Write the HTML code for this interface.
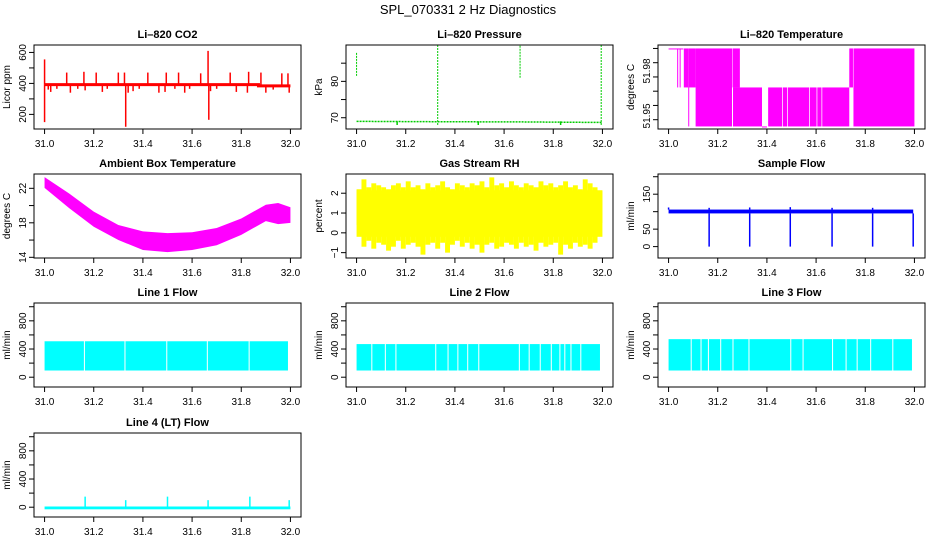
<!DOCTYPE html>
<html><head><meta charset="utf-8">
<style>
html,body{margin:0;padding:0;background:#fff;}
svg{display:block;font-family:"Liberation Sans",sans-serif;}
</style></head>
<body>
<svg id="fig" width="936" height="540" viewBox="0 0 936 540" xmlns="http://www.w3.org/2000/svg">
<text x="468" y="14" text-anchor="middle" font-size="13">SPL_070331  2 Hz Diagnostics</text>
</svg>
<script>
// ---- data ----
const xTicks = [31.0, 31.2, 31.4, 31.6, 31.8, 32.0];
const xTickLabels = ["31.0", "31.2", "31.4", "31.6", "31.8", "32.0"];

const co2BaseX = [31.0, 31.87, 31.87, 32.0];
const co2BaseV = [392, 392, 384, 384];
const co2SpikeX = [31.0, 31.0, 31.09, 31.16, 31.21, 31.3, 31.325, 31.33, 31.42, 31.495, 31.545, 31.635, 31.665, 31.668, 31.755, 31.83, 31.88, 31.965, 31.99];
const co2SpikeV = [555, 150, 470, 475, 470, 470, 470, 120, 470, 470, 470, 465, 610, 165, 470, 475, 470, 465, 465];
const co2DipX = [31.015, 31.025, 31.05, 31.105, 31.135, 31.165, 31.235, 31.255, 31.34, 31.36, 31.385, 31.465, 31.49, 31.53, 31.57, 31.59, 31.675, 31.7, 31.78, 31.825, 31.9, 31.93, 31.995];
const co2DipV = [360, 345, 365, 340, 365, 355, 345, 365, 340, 350, 365, 340, 345, 365, 340, 365, 350, 365, 345, 340, 340, 360, 340];

const presBaseX = [31.0, 31.33, 31.665, 32.0];
const presBaseV = [69.0, 68.9, 68.85, 68.7];
const presSpikeX = [31.0, 31.33, 31.665, 31.995];
const presSpikeLo = [81.5, 68.0, 81.0, 68.0];
const presSpikeHi = [88.0, 90.5, 91.0, 90.5];
const presDipX = [31.165, 31.495, 31.83];
const presDipV = [68.0, 68.0, 68.0];

const tempTop = 51.995, tempMid = 51.969, tempBot = 51.943;
const tempSegX0 = [31.0, 31.035, 31.045, 31.062, 31.08, 31.083, 31.11, 31.26, 31.262, 31.38, 31.405, 31.465, 31.485, 31.575, 31.605, 31.625, 31.735, 31.752];
const tempSegX1 = [31.06, 31.037, 31.047, 31.08, 31.083, 31.11, 31.258, 31.29, 31.38, 31.40, 31.462, 31.482, 31.572, 31.602, 31.622, 31.735, 31.75, 32.0];
const tempSegHi = [tempTop, tempTop, tempTop, tempTop, tempTop, tempTop, tempTop, tempTop, tempMid, tempBot, tempMid, tempMid, tempMid, tempMid, tempMid, tempMid, tempTop, tempTop];
const tempSegLo = [tempTop, tempMid, tempMid, tempMid, tempBot, tempMid, tempBot, tempMid, tempBot, tempBot, tempBot, tempBot, tempBot, tempBot, tempBot, tempBot, tempMid, tempBot];

const ambX = [31.0, 31.1, 31.2, 31.3, 31.4, 31.5, 31.6, 31.7, 31.8, 31.9, 31.95, 32.0];
const ambHi = [23.3, 21.4, 19.3, 17.75, 17.0, 16.8, 16.9, 17.4, 18.5, 20.1, 20.3, 19.8];
const ambLo = [22.05, 19.7, 17.55, 16.0, 14.85, 14.6, 14.85, 15.4, 16.6, 18.2, 17.85, 18.0];

const rhHi = [2.2, 2.7, 2.3, 2.5, 2.4, 2.3, 2.2, 2.4, 2.5, 2.3, 2.6, 2.3, 2.4, 2.2, 2.5, 2.3, 2.4, 2.6, 2.3, 2.2, 2.5, 2.4, 2.3, 2.5, 2.4, 2.6, 2.3, 2.8, 2.4, 2.5, 2.3, 2.6, 2.4, 2.3, 2.5, 2.4, 2.3, 2.6, 2.4, 2.5, 2.3, 2.4, 2.6, 2.3, 2.4, 2.2, 2.7, 2.5, 2.3, 2.1];
const rhLo = [0.4, -0.7, -0.4, -0.8, -0.5, -0.6, -0.9, -0.7, -0.4, -0.8, -0.6, -0.5, -0.7, -1.1, -0.6, -0.5, -0.8, -0.5, -1.0, -0.6, -0.4, -0.7, -0.5, -0.8, -0.6, -1.0, -0.6, -0.5, -0.8, -0.7, -0.5, -0.6, -0.8, -0.5, -0.7, -0.6, -0.9, -0.5, -0.7, -0.6, -0.5, -1.1, -0.6, -0.8, -0.5, -0.7, -0.6, -0.8, -0.5, 0.5];

const sfBaseLo = 95, sfBaseHi = 106;
const sfDropX = [31.165, 31.33, 31.495, 31.665, 31.83, 31.995];
const sfDropV = [0, 0, 0, 0, 0, 0];
const sfUpX = [31.0, 31.165, 31.33, 31.495, 31.665, 31.83];
const sfUpV = [112, 111, 112, 113, 111, 111];

const l1Lo = 95, l1Hi = 510;
const l1Gaps = [31.16, 31.325, 31.495, 31.66, 31.83];
const l2Lo = 95, l2Hi = 470;
const l2Gaps = [31.06, 31.115, 31.158, 31.32, 31.37, 31.41, 31.45, 31.495, 31.66, 31.7, 31.745, 31.79, 31.825, 31.845, 31.87, 31.91];
const l3Lo = 95, l3Hi = 540;
const l3Gaps = [31.09, 31.13, 31.16, 31.21, 31.26, 31.325, 31.495, 31.545, 31.665, 31.72, 31.765, 31.82, 31.91];
const l4Base = 0;
const l4SpikeX = [31.165, 31.33, 31.5, 31.665, 31.835, 31.995];
const l4SpikeV = [150, 100, 150, 100, 150, 100];

// ---- layout ----
const NS = "http://www.w3.org/2000/svg";
const svg = document.getElementById("fig");
const colLeft = [34, 346, 658], rowTop = [45, 174, 303, 433];
const BW = 267, BH = 84, XMIN = 30.957, XMAX = 32.043;

function el(tag, attrs, parent) {
  const e = document.createElementNS(NS, tag);
  for (const k in attrs) e.setAttribute(k, attrs[k]);
  (parent || svg).appendChild(e);
  return e;
}

function panel(col, row, title, ylab, ymin, ymax, yTickV, yLabV, yLabT, name) {
  const L = colLeft[col], T = rowTop[row];
  const g = el("g", {});
  
  
  const sx = v => L + (v - XMIN) / (XMAX - XMIN) * BW;
  const sy = v => T + (ymax - v) / (ymax - ymin) * BH;
  const t = el("text", {x: L + BW / 2, y: T - 7, "text-anchor": "middle", "font-size": "11", "font-weight": "bold"}, g);
  t.textContent = title;
  
  
  const yl = el("text", {x: 0, y: 0, "text-anchor": "middle", "font-size": "10", transform: "translate(" + (L - 24) + "," + (T + BH / 2) + ") rotate(-90)"}, g);
  yl.textContent = ylab;
  
  
  // x axis
  xTicks.forEach((v, i) => {
    const tk = el("line", {x1: sx(v), x2: sx(v), y1: T + BH, y2: T + BH + 5, stroke: "#000"}, g);
    
    
    const tl = el("text", {x: sx(v), y: T + BH + 18, "text-anchor": "middle", "font-size": "10"}, g);
    tl.textContent = xTickLabels[i];
    
    
  });
  yTickV.forEach(v => {
    const tk = el("line", {x1: L - 5, x2: L, y1: sy(v), y2: sy(v), stroke: "#000"}, g);
    
    
  });
  yLabV.forEach((v, i) => {
    const tl = el("text", {x: 0, y: 0, "text-anchor": "middle", "font-size": "10", transform: "translate(" + (L - 8) + "," + sy(v) + ") rotate(-90)"}, g);
    tl.textContent = yLabT[i];
    
    
  });
  const clipId = "clip-" + name;
  const cp = el("clipPath", {id: clipId}, g);
  el("rect", {x: L, y: T, width: BW, height: BH}, cp);
  const plot = el("g", {"clip-path": "url(#" + clipId + ")"}, g);
  
  
  setTimeout(() => {
    const box = el("rect", {x: L, y: T, width: BW, height: BH, fill: "none", stroke: "#000", "stroke-width": "1"}, g);
    
    
  }, 0);
  return {sx, sy, plot};
}

function vline(p, x, v1, v2, color, w, nm) {
  const l = el("line", {x1: p.sx(x), x2: p.sx(x), y1: p.sy(v1), y2: p.sy(v2), stroke: color, "stroke-width": w || 1}, p.plot);
  
  
  return l;
}
function rectV(p, x0, x1, hi, lo, color, nm) {
  const r = el("rect", {x: p.sx(x0), y: p.sy(hi), width: Math.max(1, p.sx(x1) - p.sx(x0)), height: Math.max(1, p.sy(lo) - p.sy(hi)), fill: color}, p.plot);
  
  
  return r;
}
function band(p, lo, hi, gaps, color, nm) {
  rectV(p, 31.0, 31.99, hi, lo, color, nm + '-band');
  gaps.forEach(gx => {
    const r = rectV(p, gx, gx + 0.004, hi + 20, lo - 20, "#fff", nm + '-gap');
  });
}

// ---- panels ----
// CO2
let p = panel(0, 0, "Li\u2013820 CO2", "Licor ppm", 105.6, 648, [200, 300, 400, 500, 600], [200, 400, 600], ["200", "400", "600"], "co2");
co2SpikeX.forEach((x, i) => vline(p, x, co2BaseV[0], co2SpikeV[i], "#f00", 1.5, "co2-spike"));
co2DipX.forEach((x, i) => vline(p, x, co2BaseV[0], co2DipV[i], "#f00", 1.5, "co2-dip"));
{
  const pts = co2BaseX.map((x, i) => p.sx(x) + "," + p.sy(co2BaseV[i])).join(" ");
  const pl = el("polyline", {points: pts, fill: "none", stroke: "#f00", "stroke-width": 3}, p.plot);
  
  
}
// Pressure
p = panel(1, 0, "Li\u2013820 Pressure", "kPa", 66.9, 90.0, [70, 75, 80, 85], [70, 80], ["70", "80"], "pressure");
{
  const pts = presBaseX.map((x, i) => p.sx(x) + "," + p.sy(presBaseV[i])).join(" ");
  const pl = el("polyline", {points: pts, fill: "none", stroke: "#0c0", "stroke-width": 1.5, "stroke-dasharray": "2 1"}, p.plot);
  
  
}
presSpikeX.forEach((x, i) => vline(p, x, presSpikeLo[i], presSpikeHi[i], "#0c0", 1, "pressure-spike").setAttribute("stroke-dasharray", "2 1"));
presDipX.forEach((x, i) => vline(p, x, presBaseV[0], presDipV[i], "#0c0", 1.5, "pressure-dip"));
// Temperature
p = panel(2, 0, "Li\u2013820 Temperature", "degrees C", 51.9413, 51.9973, [51.9475, 51.957, 51.9665, 51.976, 51.9855, 51.995], [51.95, 51.98], ["51.95", "51.98"], "li820-temp");
tempSegX0.forEach((x0, i) => rectV(p, x0, tempSegX1[i], tempSegHi[i], tempSegLo[i], "#f0f", "temp-segment"));
// Ambient
p = panel(0, 1, "Ambient Box Temperature", "degrees C", 13.92, 23.66, [14, 16, 18, 20, 22], [14, 18, 22], ["14", "18", "22"], "ambient");
{
  const pts = ambX.map((x, i) => p.sx(x) + "," + p.sy(ambHi[i])).concat(ambX.slice().reverse().map((x, j) => p.sx(x) + "," + p.sy(ambLo[ambX.length - 1 - j]))).join(" ");
  const pg = el("polygon", {points: pts, fill: "#f0f"}, p.plot);
  
  
}
// RH
p = panel(1, 1, "Gas Stream RH", "percent", -1.27, 2.97, [-1, 0, 1, 2], [-1, 0, 1, 2], ["\u22121", "0", "1", "2"], "rh");
rhHi.forEach((h, i) => {
  const x0 = 31.0 + i / rhHi.length, x1 = 31.0 + (i + 1) / rhHi.length;
  rectV(p, x0, x1, h, rhLo[i], "#ff0", "rh-bin");
});
rectV(p, 31.0, 32.0, 2.15, -0.2, "#ff0", "rh-core");
// Sample flow
p = panel(2, 1, "Sample Flow", "ml/min", -32.6, 207.8, [0, 50, 100, 150, 200], [0, 50, 150], ["0", "50", "150"], "sample-flow");
rectV(p, 31.0, 31.995, sfBaseHi, sfBaseLo, "#00f", "sample-flow-band");
sfDropX.forEach((x, i) => vline(p, x, sfBaseLo, sfDropV[i], "#00f", 1.5, "sample-flow-drop"));
sfUpX.forEach((x, i) => vline(p, x, sfBaseHi, sfUpV[i], "#00f", 1.5, "sample-flow-up"));
// Lines
const flowTicks = [0, 200, 400, 600, 800, 1000];
p = panel(0, 2, "Line 1 Flow", "ml/min", -139, 1053, flowTicks, [0, 400, 800], ["0", "400", "800"], "line1");
band(p, l1Lo, l1Hi, l1Gaps, "#0ff", "line1");
p = panel(1, 2, "Line 2 Flow", "ml/min", -139, 1053, flowTicks, [0, 400, 800], ["0", "400", "800"], "line2");
band(p, l2Lo, l2Hi, l2Gaps, "#0ff", "line2");
p = panel(2, 2, "Line 3 Flow", "ml/min", -139, 1053, flowTicks, [0, 400, 800], ["0", "400", "800"], "line3");
band(p, l3Lo, l3Hi, l3Gaps, "#0ff", "line3");
p = panel(0, 3, "Line 4 (LT) Flow", "ml/min", -139, 1053, flowTicks, [0, 400, 800], ["0", "400", "800"], "line4");
rectV(p, 31.0, 32.0, l4Base + 10, l4Base - 30, "#0ff", "line4-base");
l4SpikeX.forEach((x, i) => vline(p, x, l4Base, l4SpikeV[i], "#0ff", 1.5, "line4-spike"));
</script>
</body></html>
